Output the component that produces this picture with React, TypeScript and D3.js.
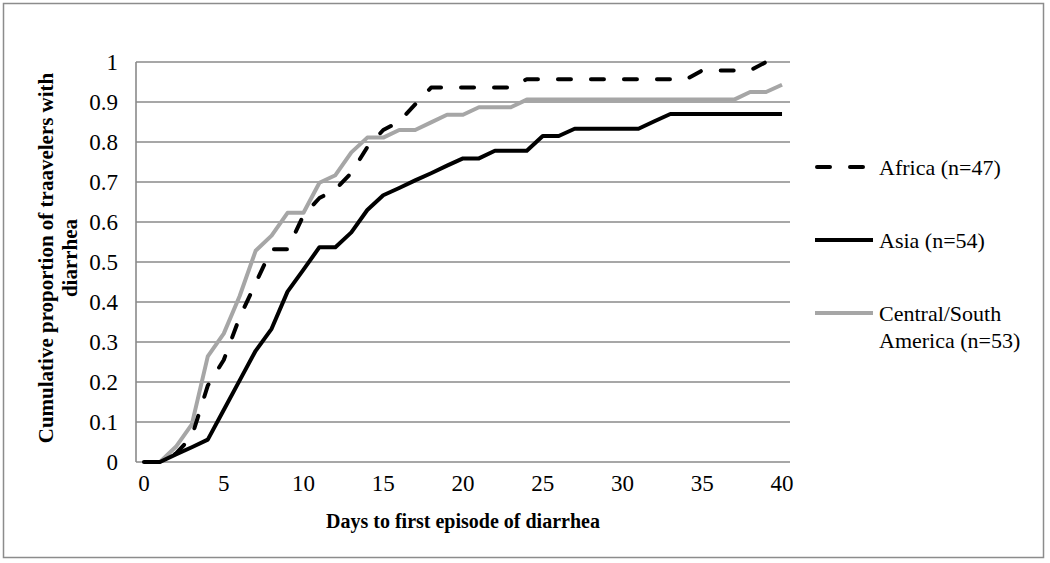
import React from 'react';
import * as d3 from 'd3';

// days 0..40 (category axis)
const days = [0, 1, 2, 3, 4, 5, 6, 7, 8, 9, 10, 11, 12, 13, 14, 15, 16, 17, 18, 19, 20,
  21, 22, 23, 24, 25, 26, 27, 28, 29, 30, 31, 32, 33, 34, 35, 36, 37, 38, 39, 40];

const africa = [0, 0, 0.021, 0.064, 0.191, 0.255, 0.362, 0.447, 0.532, 0.532, 0.617,
  0.66, 0.681, 0.723, 0.787, 0.83, 0.851, 0.894, 0.936, 0.936, 0.936,
  0.936, 0.936, 0.936, 0.957, 0.957, 0.957, 0.957, 0.957, 0.957, 0.957,
  0.957, 0.957, 0.957, 0.957, 0.979, 0.979, 0.979, 0.979, 1, 1];

const asia = [0, 0, 0.019, 0.037, 0.056, 0.13, 0.204, 0.278, 0.333, 0.426, 0.481,
  0.537, 0.537, 0.574, 0.63, 0.667, 0.685, 0.704, 0.722, 0.741, 0.759,
  0.759, 0.778, 0.778, 0.778, 0.815, 0.815, 0.833, 0.833, 0.833, 0.833,
  0.833, 0.852, 0.87, 0.87, 0.87, 0.87, 0.87, 0.87, 0.87, 0.87];

const centralSouth = [0, 0, 0.038, 0.094, 0.264, 0.321, 0.415, 0.528, 0.566, 0.623, 0.623,
  0.698, 0.717, 0.774, 0.811, 0.811, 0.83, 0.83, 0.849, 0.868, 0.868,
  0.887, 0.887, 0.887, 0.906, 0.906, 0.906, 0.906, 0.906, 0.906, 0.906,
  0.906, 0.906, 0.906, 0.906, 0.906, 0.906, 0.906, 0.925, 0.925, 0.943];

const yTicks = [0, 0.1, 0.2, 0.3, 0.4, 0.5, 0.6, 0.7, 0.8, 0.9, 1];
const xTickDays = [0, 5, 10, 15, 20, 25, 30, 35, 40];

const seriesList = [
  { name: 'Central/South', name2: 'America (n=53)', values: centralSouth, color: '#a6a6a6', dash: null, ly: 313 },
  { name: 'Asia (n=54)', name2: null, values: asia, color: '#000000', dash: null, ly: 240 },
  { name: 'Africa (n=47)', name2: null, values: africa, color: '#000000', dash: '13 20', ly: 167 },
];

const width = 1050;
const height = 563;
const left = 136;
const right = 790;
const top = 62;
const bottom = 462;
const font = '"Liberation Serif", "Times New Roman", serif';
const gridColor = '#8a8a8a';

export default function App() {
  const x = d3.scalePoint<number>().domain(days).range([left, right]).padding(0.5);
  const y = d3.scaleLinear().domain([0, 1]).range([bottom, top]);

  const line = d3.line<number>()
    .x((_, i) => x(days[i]) as number)
    .y((d) => y(d));

  return (
    <svg width={width} height={height} style={{ position: 'absolute', left: 0, top: 0, background: '#fff' }}>
      <rect x={3.5} y={3.5} width={1040} height={554} fill="#fff" stroke="#8c8c8c" strokeWidth={1.5} />

      {/* gridlines */}
      {yTicks.map((t) => (
        <line key={t} x1={left} x2={right} y1={y(t)} y2={y(t)} stroke={gridColor} strokeWidth={1.6} />
      ))}
      <line x1={left} x2={left} y1={top} y2={bottom} stroke={gridColor} strokeWidth={1.6} />

      {/* y tick labels */}
      {yTicks.map((t) => (
        <text key={t} x={118} y={y(t) + 8} textAnchor="end" fontSize={23} fontFamily={font} fill="#000">{String(t)}</text>
      ))}

      {/* x tick labels */}
      {xTickDays.map((d) => (
        <text key={d} x={x(d)} y={491} textAnchor="middle" fontSize={23} fontFamily={font} fill="#000">{d}</text>
      ))}

      <text x={(left + right) / 2} y={528} textAnchor="middle" fontSize={20} fontWeight="bold" fontFamily={font}>
        Days to first episode of diarrhea
      </text>

      <g transform={`translate(0,258) rotate(-90)`}>
        <text x={0} y={53} textAnchor="middle" fontSize={21} fontWeight="bold" fontFamily={font}>
          Cumulative proportion of traavelers with
        </text>
        <text x={0} y={77} textAnchor="middle" fontSize={21} fontWeight="bold" fontFamily={font}>diarrhea</text>
      </g>

      {/* series */}
      {seriesList.map((s) => (
        <path key={s.name} d={line(s.values) ?? ''} fill="none" stroke={s.color} strokeWidth={4}
          strokeDasharray={s.dash ?? undefined} strokeLinecap={s.dash ? 'round' : 'butt'}
          strokeLinejoin="round" />
      ))}

      {/* legend */}
      {seriesList.map((s) => (
        <g key={'lg' + s.name}>
          <line x1={s.dash ? 817 : 815} x2={873} y1={s.ly} y2={s.ly} stroke={s.color} strokeWidth={4}
            strokeDasharray={s.dash ? '13 20' : undefined} strokeLinecap={s.dash ? 'round' : 'butt'} />
          <text x={879} y={s.ly + 8} fontSize={22} fontFamily={font}>{s.name}</text>
          {s.name2 && <text x={879} y={s.ly + 35} fontSize={22} fontFamily={font}>{s.name2}</text>}
        </g>
      ))}
    </svg>
  );
}
